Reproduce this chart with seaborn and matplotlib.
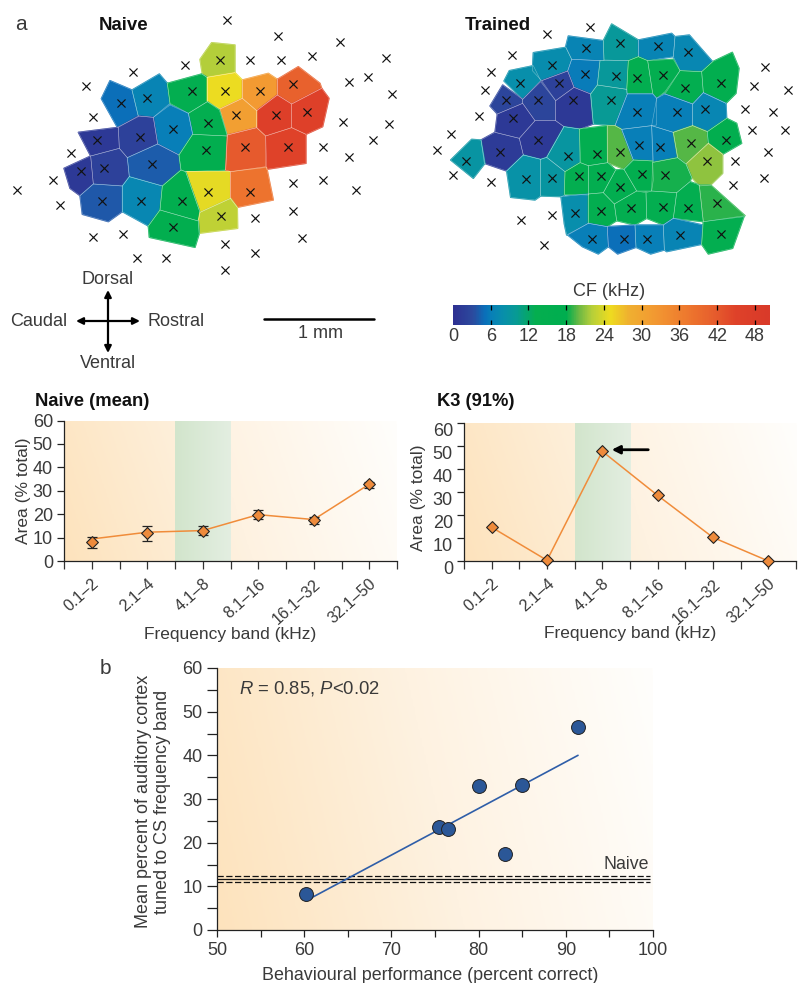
import numpy as np
import pandas as pd
import matplotlib
matplotlib.use("Agg")
import matplotlib.pyplot as plt
import seaborn as sns
from matplotlib.colors import LinearSegmentedColormap, Normalize
from matplotlib.collections import PolyCollection
from matplotlib.transforms import ScaledTranslation

W, H = 799, 983

# ---- best frequency maps, vertices and CF values
naive_cells = [
    [(635,128),(705,135),(705,218),(620,232),(607,222),(600,178)],
    [(304,296),(330,242),(396,270),(415,350),(352,382)],
    [(396,270),(478,222),(502,250),(510,310),(460,352),(415,348)],
    [(502,250),(605,222),(622,232),(622,305),(565,340),(510,310)],
    [(622,232),(705,218),(727,240),(727,295),(660,327),(622,305)],
    [(727,240),(805,220),(832,238),(832,285),(770,332),(727,295)],
    [(832,238),(895,200),(960,250),(965,265),(875,312),(832,285)],
    [(875,312),(965,265),(987,295),(968,380),(918,403),(875,383)],
    [(770,332),(832,285),(875,312),(875,383),(797,408),(770,383)],
    [(660,327),(727,295),(770,332),(770,383),(682,405)],
    [(565,340),(622,305),(658,330),(682,408),(578,403)],
    [(460,352),(510,315),(565,340),(578,403),(537,465),(473,432)],
    [(355,382),(415,348),(460,352),(473,432),(382,473),(358,445)],
    [(235,397),(355,382),(358,445),(272,468)],
    [(272,468),(358,445),(382,473),(388,530),(367,558),(280,552)],
    [(192,505),(272,468),(280,552),(240,587),(210,565)],
    [(382,473),(473,432),(537,465),(543,510),(487,558),(388,530)],
    [(240,587),(280,552),(367,558),(367,635),(325,665),(247,643)],
    [(367,558),(388,530),(487,558),(480,630),(445,678),(367,635)],
    [(537,465),(578,403),(682,408),(677,510),(557,515),(543,510)],
    [(682,405),(770,383),(797,408),(797,500),(692,515),(677,510)],
    [(797,408),(875,383),(918,403),(918,490),(800,508)],
    [(557,515),(692,515),(692,595),(600,637)],
    [(692,515),(800,502),(820,600),(712,622),(692,597)],
    [(487,558),(543,510),(557,515),(600,637),(595,663),(480,630)],
    [(600,637),(692,595),(712,622),(713,685),(597,700),(595,663)],
    [(480,630),(595,663),(598,700),(585,742),(448,712),(445,678)],
]
naive_cf = [22, 5, 6.5, 15, 25, 32, 41, 46, 47, 31, 15, 6, 2, 1, 2, 1, 4,
            3.8, 7, 16, 42, 45, 24.5, 38, 16, 22.5, 16]
naive_x_pos = [(681,61),(833,107),(1019,125),(659,181),(751,181),(843,181),(935,167),
               (1157,174),(554,195),(398,216),(257,259),(1048,245),(1104,231),(1175,281),
               (575,273),(674,273),(779,273),(878,252),(441,294),(363,308),(709,344),
               (828,344),(921,337),(279,351),(624,368),(1030,365),(1168,372),(518,386),
               (420,410),(292,421),(1118,421),(734,442),(864,442),(970,442),(617,449),
               (214,460),(1048,470),(455,491),(242,512),(313,505),(158,541),(878,548),
               (970,541),(52,569),(1069,569),(624,576),(751,576),(307,604),(423,604),
               (546,604),(179,615),(878,632),(662,647),(765,654),(518,682),(278,710),
               (370,703),(906,714),(674,732),(765,760),(412,774),(497,774),(674,809)]

trained_cells = [
    [(437,140),(445,108),(550,122),(552,182),(455,178)],
    [(550,122),(575,72),(655,120),(655,170),(625,182),(552,180)],
    [(655,120),(755,100),(765,110),(760,170),(683,182),(655,170)],
    [(765,110),(808,105),(878,185),(845,215),(780,212),(760,170)],
    [(340,158),(437,142),(455,178),(443,213),(365,242),(337,212)],
    [(443,213),(455,178),(540,182),(532,255),(512,282),(462,262)],
    [(540,182),(625,182),(620,268),(532,255)],
    [(625,182),(655,170),(683,182),(698,280),(620,280)],
    [(683,182),(760,178),(780,212),(735,275),(710,295),(698,280)],
    [(780,212),(845,215),(850,278),(818,312),(735,282)],
    [(845,215),(878,185),(937,157),(957,205),(948,280),(918,310),(850,278)],
    [(252,243),(268,212),(340,197),(362,242),(308,298)],
    [(365,242),(443,213),(462,262),(407,302)],
    [(308,298),(362,245),(407,302),(407,362),(345,362),(308,310)],
    [(210,318),(248,255),(308,298),(308,310),(232,342)],
    [(407,302),(462,262),(512,282),(520,372),(480,387),(432,380),(407,362)],
    [(232,342),(308,310),(345,362),(298,415),(225,397)],
    [(298,415),(345,362),(407,362),(432,380),(380,472),(362,478),(310,465)],
    [(183,420),(225,397),(298,415),(310,465),(260,513),(193,490)],
    [(92,480),(155,418),(183,420),(195,490),(160,535)],
    [(512,282),(532,255),(620,268),(622,282),(585,377),(520,372)],
    [(622,282),(698,282),(710,295),(710,375),(605,388),(585,377)],
    [(710,295),(735,282),(818,312),(818,377),(760,397),(695,377)],
    [(818,312),(850,278),(918,310),(920,355),(862,395),(818,377)],
    [(380,472),(432,380),(478,387),(480,488),(435,515)],
    [(478,387),(562,377),(563,488),(505,497),(482,488)],
    [(562,377),(585,377),(605,388),(640,480),(612,508),(563,488)],
    [(605,388),(695,377),(698,483),(640,480)],
    [(695,377),(760,397),(773,473),(700,487)],
    [(760,397),(818,377),(862,395),(865,430),(798,492),(773,473)],
    [(862,395),(920,355),(950,370),(965,430),(908,463),(865,430)],
    [(798,492),(865,430),(908,463),(908,520),(872,555),(838,558),(815,532)],
    [(260,513),(310,465),(362,478),(362,588),(345,600),(272,592)],
    [(362,478),(380,472),(435,515),(433,585),(425,590),(362,588)],
    [(435,515),(480,488),(505,497),(505,585),(433,583)],
    [(505,497),(563,488),(587,510),(550,578),(505,582)],
    [(550,578),(587,510),(612,508),(650,573),(583,612)],
    [(612,508),(640,480),(698,483),(700,540),(695,573),(650,573)],
    [(698,487),(773,473),(798,492),(815,532),(810,545),(770,578),(695,573)],
    [(423,590),(505,582),(505,670),(440,705),(433,672)],
    [(505,582),(550,578),(583,612),(590,662),(562,680),(505,670)],
    [(583,612),(650,573),(678,578),(680,655),(645,675),(590,662)],
    [(678,578),(695,573),(770,578),(760,655),(730,675),(680,655)],
    [(770,578),(810,545),(838,555),(850,665),(760,655)],
    [(838,555),(872,555),(975,647),(850,665)],
    [(443,705),(505,670),(562,680),(565,740),(535,762),(487,740)],
    [(562,680),(645,675),(648,742),(593,762),(565,740)],
    [(645,675),(730,675),(733,750),(692,762),(648,742)],
    [(730,675),(760,655),(848,675),(845,733),(740,755),(733,750)],
    [(850,665),(972,650),(938,745),(865,762),(845,733)],
]
trained_cf = [6.5, 9.5, 6.5, 7, 7.5, 5.8, 9.5, 15, 15.5, 15.5, 16, 8, 2, 2.5, 2.5, 1, 1,
              1, 1.3, 8.8, 10, 6, 6, 6.8, 9, 15, 19.5, 6, 6, 19.6, 16, 21, 8.3, 9, 15.5,
              15, 15.5, 16, 18.5, 7.8, 15, 15, 15, 15, 18.8, 6, 5, 6, 6.6, 15]
trained_x_pos = [(509,81),(382,102),(600,130),(713,138),(498,144),(805,155),(276,166),
                 (396,195),(212,215),(495,222),(587,229),(651,233),(728,226),(904,250),
                 (300,250),(418,250),(1034,201),(1003,257),(1105,271),(795,264),(195,271),
                 (258,299),(354,299),(459,299),(572,299),(975,327),(1060,335),(650,335),
                 (770,335),(855,327),(177,349),(279,355),(996,391),(1095,391),(92,402),
                 (354,419),(918,419),(813,430),(657,434),(720,441),(50,451),(240,455),
                 (600,455),(530,462),(1045,455),(445,469),(138,483),(862,483),(946,483),
                 (665,522),(735,525),(478,529),(544,529),(318,536),(396,533),(99,526),
                 (1031,533),(212,547),(600,561),(939,554),(890,610),(466,638),(632,624),
                 (728,620),(805,624),(544,632),(396,646),(304,660),(516,716),(611,716),
                 (682,716),(780,706),(904,702),(371,734)]

cf_ticks = [0, 6, 12, 18, 24, 30, 36, 42, 48]
cf_max = 50.4

# ---- frequency band panels
bands = ["0.1–2", "2.1–4", "4.1–8", "8.1–16", "16.1–32", "32.1–50"]
naive_mean = [8.1, 11.8, 13.0, 19.7, 17.5, 32.8]
naive_line = [9.4, 12.3, 13.0, 19.8, 17.7, 32.8]
naive_low = [5.4, 8.5, 11.1, 18.0, 16.0, 31.0]
naive_high = [10.4, 15.1, 14.8, 21.6, 19.0, 33.9]
k3_area = [14.6, 0.3, 47.5, 28.4, 10.2, 0.0]

# ---- behaviour panel
performance = [60.2, 75.5, 76.5, 80.1, 83.0, 85.0, 91.4]
tuned_area = [8.2, 23.5, 23.15, 32.9, 17.3, 33.1, 46.5]
fit_x = [60.2, 91.4]
fit_y = [6.7, 40.0]
naive_level = 11.7
naive_band = [11.0, 12.3]

sns.set_theme(style="ticks")
plt.rcParams['font.family'] = ['Liberation Sans', 'DejaVu Sans']
plt.rcParams['mathtext.fontset'] = 'custom'
plt.rcParams['mathtext.it'] = 'Liberation Sans:italic'
plt.rcParams['mathtext.rm'] = 'Liberation Sans'
plt.rcParams['text.color'] = '#3a3a3a'
plt.rcParams['axes.labelcolor'] = '#3a3a3a'
plt.rcParams['xtick.labelcolor'] = '#3a3a3a'
plt.rcParams['ytick.labelcolor'] = '#3a3a3a'

cf_cmap = LinearSegmentedColormap.from_list("cf", [
    (0 / cf_max, "#2e3192"), (3 / cf_max, "#2c4a9e"), (5 / cf_max, "#0a70ba"),
    (6 / cf_max, "#0880b8"), (8 / cf_max, "#0890aa"), (10 / cf_max, "#089b94"),
    (13 / cf_max, "#05ae50"), (18 / cf_max, "#00ae4f"), (20 / cf_max, "#6cb944"),
    (22 / cf_max, "#b5cf3a"), (25 / cf_max, "#eedc20"), (28 / cf_max, "#f0b030"),
    (32 / cf_max, "#f39a32"), (38 / cf_max, "#ed742e"), (42 / cf_max, "#e65b2d"),
    (45 / cf_max, "#df4229"), (1, "#d93a2a")])
cf_norm = Normalize(0, cf_max)
warm = LinearSegmentedColormap.from_list("warm", ["#fde3bd", "#fef2e1", "#fffefc"])
pale_green = LinearSegmentedColormap.from_list("pale", ["#d2e5cc", "#e3eee1"])

fig = plt.figure(figsize=(W / 100, H / 100), dpi=100)


def px_axes(x0, y0, x1, y1, **kw):
    return fig.add_axes([x0 / W, 1 - y1 / H, (x1 - x0) / W, (y1 - y0) / H], **kw)


def draw_map(ax, cells, cf, crosses):
    # fill with own-colour edges so small gaps close, then the pale seams on top
    base = PolyCollection(cells, array=np.array(cf), cmap=cf_cmap, norm=cf_norm,
                          edgecolors="face", linewidths=1.0)
    ax.add_collection(base)
    seams = PolyCollection(cells, facecolors="none", edgecolors="#ffffff66", linewidths=0.4)
    ax.add_collection(seams)
    pts = pd.DataFrame(crosses, columns=["x", "y"])
    sns.scatterplot(data=pts, x="x", y="y", marker="x", s=34, color="#111111",
                    linewidth=0.85, ax=ax, zorder=3)
    ax.axis("off")


def warm_background(ax, xmax, ymax):
    xx, yy = np.meshgrid(np.linspace(0, 1, 200), np.linspace(1, 0, 60))
    ax.imshow(0.88 * xx + 0.12 * yy, cmap=warm, vmin=0, vmax=1, aspect="auto",
              extent=[ax.get_xlim()[0], xmax, 0, ymax], zorder=0)


# overlay in pixels for the free labels
over = px_axes(0, 0, W, H)
over.set_xlim(0, W)
over.set_ylim(H, 0)
over.axis("off")

over.text(21, 25, "a", fontsize=15, ha="center", va="center")
over.text(105, 668, "b", fontsize=15, ha="center", va="center")
over.text(124, 25, "Naive", fontsize=13.4, fontweight="bold", ha="center", va="center", color="#111111")
over.text(498, 25, "Trained", fontsize=13.4, fontweight="bold", ha="center", va="center", color="#111111")
over.text(35, 402, "Naive (mean)", fontsize=13.2, fontweight="bold", va="center", color="#111111")
over.text(437, 402, "K3 (91%)", fontsize=13.2, fontweight="bold", va="center", color="#111111")
for label, lx, ly in [("Dorsal", 108, 279), ("Caudal", 39, 321), ("Rostral", 176, 321),
                      ("Ventral", 108, 363), ("1 mm", 321, 334), ("CF (kHz)", 609, 291)]:
    over.text(lx, ly, label, fontsize=13, ha="center", va="center")
arrow = dict(arrowstyle="<|-|>", color="black", lw=1.6, shrinkA=0, shrinkB=0, mutation_scale=10)
over.annotate("", xy=(108, 290), xytext=(108, 353), arrowprops=arrow)
over.annotate("", xy=(76, 321), xytext=(140, 321), arrowprops=arrow)
over.plot([264, 374], [319, 319], color="black", lw=1.8)

# ---- panel a maps
ax_n = px_axes(0, 0, 400, 280)
ax_n.set_xlim(0, 1200)
ax_n.set_ylim(840, 0)
draw_map(ax_n, naive_cells, naive_cf, naive_x_pos)

ax_t = px_axes(420, 0, 799, 260)
ax_t.set_xlim(0, 1137)
ax_t.set_ylim(780, 0)
draw_map(ax_t, trained_cells, trained_cf, trained_x_pos)

# colour key
ax_c = px_axes(453, 305, 770, 325)
ax_c.imshow(np.linspace(0, cf_max, 400)[None, :], cmap=cf_cmap, norm=cf_norm, aspect="auto",
            extent=[0, cf_max, 0, 1])
ax_c.vlines(cf_ticks[1:], 0, 0.25, color="black", lw=0.9)
ax_c.vlines(cf_ticks[1:], 0.75, 1, color="black", lw=0.9)
ax_c.set_yticks([])
ax_c.set_xticks(cf_ticks)
ax_c.set_xticklabels(cf_ticks, fontsize=13)
ax_c.tick_params(axis="x", length=0, pad=2)
sns.despine(ax=ax_c, left=True, bottom=True)


# ---- band panels
def band_panel(box, ylabel_x, ylabel_y):
    ax = px_axes(*box)
    ax.set_xlim(0, 6)
    ax.set_ylim(0, 60)
    warm_background(ax, 6, 60)
    xx = np.linspace(0, 1, 50)[None, :]
    ax.imshow(xx, cmap=pale_green, aspect="auto", extent=[2, 3, 0, 60], zorder=0.5)
    ax.set_xlim(0, 6)
    ax.set_ylim(0, 60)
    ax.set_xticks(np.arange(6) + 0.5)
    ax.set_xticks(np.arange(7), minor=True)
    ax.set_xticklabels(bands, rotation=42, ha="right", rotation_mode="anchor", fontsize=11.6)
    ax.set_yticks(range(0, 61, 10))
    ax.tick_params(axis="y", labelsize=13, length=5, width=0.9, pad=3, color="#222222")
    ax.tick_params(axis="x", which="both", length=6, width=0.9, pad=5, color="#333333")
    ax.set_xlabel("Frequency band (kHz)", fontsize=12.5)
    ax.xaxis.set_label_coords(0.5, -0.47)
    ax.set_ylabel("Area (% total)", fontsize=12.5)
    ax.yaxis.set_label_coords(ylabel_x, ylabel_y)
    sns.despine(ax=ax)
    for s in ["left", "bottom"]:
        ax.spines[s].set_color("#222222")
        ax.spines[s].set_linewidth(0.9)
    return ax


pos = np.arange(6) + 0.5
ax1 = band_panel((64, 420.5, 397, 561), -0.10, 0.5)
sns.lineplot(x=pos, y=naive_line, color="#f08c3a", lw=1.1, ax=ax1, zorder=2)
ax1.errorbar(pos, naive_mean,
             yerr=[np.array(naive_mean) - naive_low, np.array(naive_high) - naive_mean],
             fmt="none", ecolor="#222222", elinewidth=0.9, capsize=3.5, capthick=0.9, zorder=3)
sns.scatterplot(x=pos, y=naive_mean, marker="D", s=36, color="#ee8b3c", edgecolor="#222222",
                linewidth=0.8, ax=ax1, zorder=4, clip_on=False)

ax2 = band_panel((464, 422.5, 796, 561), -0.115, 0.46)
sns.lineplot(x=pos, y=k3_area, color="#f08c3a", lw=1.1, ax=ax2, zorder=2)
sns.scatterplot(x=pos, y=k3_area, marker="D", s=36, color="#ee8b3c", edgecolor="#222222",
                linewidth=0.8, ax=ax2, zorder=4, clip_on=False)
ax2.annotate("", xy=(2.67, 48.2), xytext=(3.33, 48.2),
             arrowprops=dict(arrowstyle="-|>", color="black", lw=2, shrinkA=0, shrinkB=0,
                             mutation_scale=12))
# the K3 tick labels sit about 7 px under their ticks
for tl in ax2.get_yticklabels():
    tl.set_transform(tl.get_transform() + ScaledTranslation(0, -7 / 100, fig.dpi_scale_trans))

# ---- panel b
ax3 = px_axes(217, 668, 653, 930)
ax3.set_xlim(50, 100)
ax3.set_ylim(0, 60)
warm_background(ax3, 100, 60)
ax3.set_xlim(50, 100)
ax3.set_ylim(0, 60)
ax3.hlines(naive_level, 50, 99.7, color="#111111", lw=0.9, zorder=2)
ax3.hlines(naive_band, 50, 99.7, color="#111111", lw=0.9, linestyles=(0, (5, 2)), zorder=2)
sns.lineplot(x=fit_x, y=fit_y, color="#2f5ea8", lw=1.2, ax=ax3, zorder=3)
sns.scatterplot(x=performance, y=tuned_area, s=100, color="#2b5797", edgecolor="#222222",
                linewidth=0.7, ax=ax3, zorder=4)
ax3.set_xticks(range(50, 101, 10))
ax3.set_xticks(range(50, 101, 5), minor=True)
ax3.set_yticks(range(0, 61, 10))
ax3.set_yticks(range(0, 61, 5), minor=True)
ax3.tick_params(axis="x", which="both", length=5, width=0.9, color="#222222")
ax3.tick_params(axis="y", which="both", length=7, width=0.9, color="#222222")
ax3.tick_params(axis="both", labelsize=13)
ax3.text(52.5, 55.4, r"$\mathit{R}$ = 0.85, $\mathit{P}$<0.02", fontsize=13.3, va="center")
ax3.text(99.5, 15, "Naive", fontsize=12.8, ha="right", va="center")
ax3.set_xlabel("Behavioural performance (percent correct)", fontsize=12.9)
ax3.xaxis.set_label_coords(0.49, -0.14)
ax3.set_ylabel("Mean percent of auditory cortex\ntuned to CS frequency band", fontsize=13,
               linespacing=1.15)
ax3.yaxis.set_label_coords(-0.105, 0.49)
sns.despine(ax=ax3)
for s in ["left", "bottom"]:
    ax3.spines[s].set_color("#222222")
    ax3.spines[s].set_linewidth(0.9)

fig.savefig("out.png", dpi=100)
